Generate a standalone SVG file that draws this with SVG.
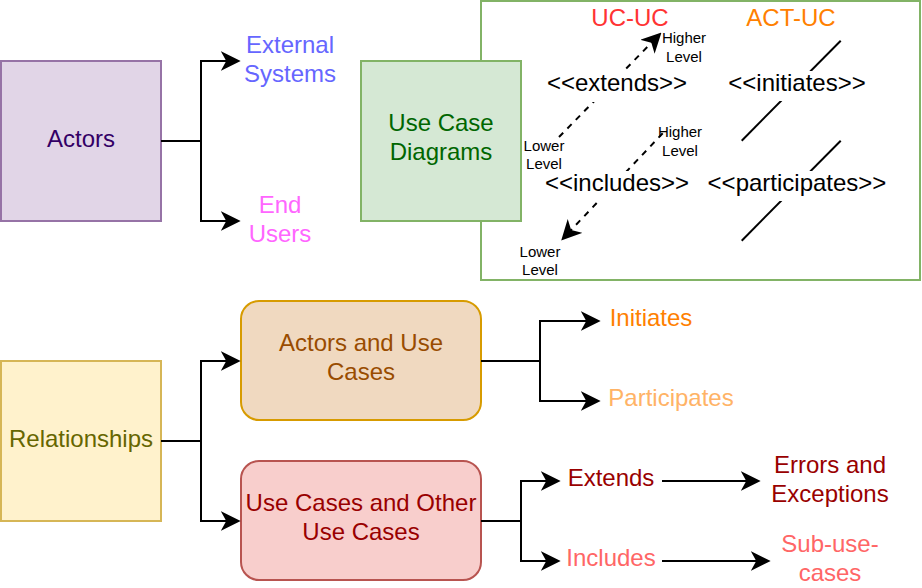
<svg xmlns="http://www.w3.org/2000/svg" width="922" height="588" viewBox="0 0 922 588">
<style>
text{font-family:"Liberation Sans",Arial,Helvetica,sans-serif;font-size:24px;text-anchor:middle}
.sm{font-size:15px;fill:#000}
.edge{fill:none;stroke:#000;stroke-width:2}
.dash{stroke-dasharray:6 6}
.lbl{fill:#fff;stroke:none}
</style>
<defs>
<marker id="arr" markerUnits="userSpaceOnUse" markerWidth="20" markerHeight="20" viewBox="0 0 18 18" refX="12" refY="9" orient="auto">
<path d="M0,0 L18,9 L0,18 L5,9 Z" fill="#000" stroke="none"/>
</marker>
</defs>
<g id="ucframe">
<rect x="481" y="1" width="439" height="279" fill="#fff" stroke="#82b366" stroke-width="2"/>
</g>
<g id="actors">
<rect x="1" y="61" width="160" height="160" fill="#e1d5e7" stroke="#9673a6" stroke-width="2"/>
<text x="81" y="147" fill="#330066">Actors</text>
</g>
<g id="external">
<text x="290" y="53" fill="#6666ff">External</text>
<text x="290" y="82" fill="#6666ff">Systems</text>
</g>
<g id="endusers">
<text x="280" y="213" fill="#ff66ff">End</text>
<text x="280" y="242" fill="#ff66ff">Users</text>
</g>
<g id="usecasediagrams">
<rect x="361" y="61" width="160" height="160" fill="#d5e8d4" stroke="#82b366" stroke-width="2"/>
<text x="441" y="131" fill="#006600">Use Case</text>
<text x="441" y="160" fill="#006600">Diagrams</text>
</g>
<g id="relationships">
<rect x="1" y="361" width="160" height="160" fill="#fff2cc" stroke="#d6b656" stroke-width="2"/>
<text x="81" y="447" fill="#666600">Relationships</text>
</g>
<g id="actorsusecases">
<rect x="241" y="301" width="240" height="119" rx="18" ry="18" fill="#f0d9c0" stroke="#d79b00" stroke-width="2"/>
<text x="361" y="351" fill="#994c00">Actors and Use</text>
<text x="361" y="380" fill="#994c00">Cases</text>
</g>
<g id="usecasesother">
<rect x="241" y="461" width="240" height="119" rx="18" ry="18" fill="#f8cecc" stroke="#b85450" stroke-width="2"/>
<text x="361" y="511" fill="#990000">Use Cases and Other</text>
<text x="361" y="540" fill="#990000">Use Cases</text>
</g>
<g id="initiates"><text x="651" y="326" fill="#ff8000">Initiates</text></g>
<g id="participates"><text x="671" y="406" fill="#ffb366">Participates</text></g>
<g id="extends"><text x="611" y="486" fill="#990000">Extends</text></g>
<g id="includes"><text x="611" y="566" fill="#ff6666">Includes</text></g>
<g id="errors">
<text x="830" y="473" fill="#990000">Errors and</text>
<text x="830" y="502" fill="#990000">Exceptions</text>
</g>
<g id="subusecases">
<text x="830" y="552" fill="#ff6666">Sub-use-</text>
<text x="830" y="581" fill="#ff6666">cases</text>
</g>
<g id="connectors">
<path class="edge" d="M161,141 H201 V61 H234" marker-end="url(#arr)"/>
<path class="edge" d="M201,141 V221 H234" marker-end="url(#arr)"/>
<path class="edge" d="M161,441 H201 V361 H234" marker-end="url(#arr)"/>
<path class="edge" d="M201,441 V521 H234" marker-end="url(#arr)"/>
<path class="edge" d="M481,361 H540 V321 H594" marker-end="url(#arr)"/>
<path class="edge" d="M540,361 V401 H594" marker-end="url(#arr)"/>
<path class="edge" d="M481,521 H521 V481 H554" marker-end="url(#arr)"/>
<path class="edge" d="M521,521 V561 H554" marker-end="url(#arr)"/>
<path class="edge" d="M662,481 H754" marker-end="url(#arr)"/>
<path class="edge" d="M662,561 H764" marker-end="url(#arr)"/>
<path class="edge dash" d="M559,137 L656.8,37.3" marker-end="url(#arr)"/>
<path class="edge dash" d="M662.7,133.3 L565.8,235.6" marker-end="url(#arr)"/>
<path class="edge" d="M840.7,40.7 L741.7,140.7"/>
<path class="edge" d="M840.7,140.7 L741.7,240.7"/>
</g>
<g id="uc-labels">
<text x="630" y="26" fill="#ff3333">UC-UC</text>
<text x="791" y="26" fill="#ff8000">ACT-UC</text>
<rect class="lbl" x="545" y="70" width="144" height="32"/>
<text x="617" y="91" fill="#000">&lt;&lt;extends&gt;&gt;</text>
<rect class="lbl" x="543" y="171" width="149" height="31"/>
<text x="617" y="191" fill="#000">&lt;&lt;includes&gt;&gt;</text>
<rect class="lbl" x="726" y="71" width="143" height="30"/>
<text x="797" y="91" fill="#000">&lt;&lt;initiates&gt;&gt;</text>
<rect class="lbl" x="705" y="171" width="184" height="30"/>
<text x="797" y="191" fill="#000">&lt;&lt;participates&gt;&gt;</text>
<text class="sm" x="684" y="43">Higher</text>
<text class="sm" x="684" y="62">Level</text>
<text class="sm" x="680" y="137">Higher</text>
<text class="sm" x="680" y="156">Level</text>
<text class="sm" x="544" y="151">Lower</text>
<text class="sm" x="544" y="169">Level</text>
<text class="sm" x="540" y="257">Lower</text>
<text class="sm" x="540" y="275">Level</text>
</g>
</svg>
